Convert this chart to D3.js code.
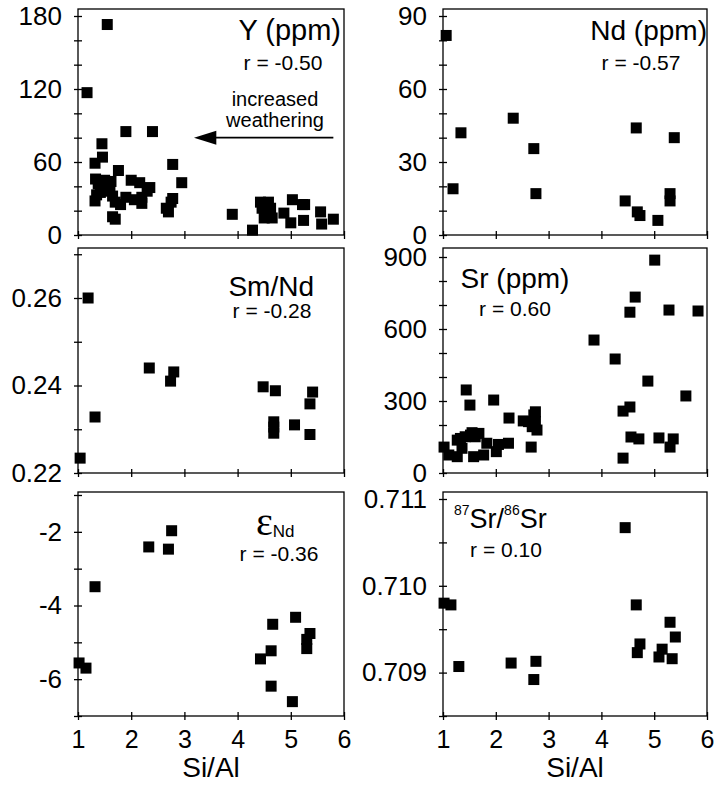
<!DOCTYPE html>
<html>
<head>
<meta charset="utf-8">
<script src="https://cdn.jsdelivr.net/npm/d3@7"></script>
<style>
body { margin: 0; background: #fff; }
svg { font-family: "Liberation Sans", Arial, Helvetica, sans-serif; }
</style>
</head>
<body>
<svg width="715" height="790"></svg>
<script>
// Y (ppm) vs Si/Al
const ySiAl = [1.17, 1.55, 1.9, 2.4, 1.45, 1.46, 1.32, 2.78, 1.76, 2.95, 2.0, 2.16, 2.35, 1.33, 1.38, 1.5, 1.56,
  1.35, 1.32, 1.42, 1.6, 1.65, 1.7, 1.62, 1.9, 2.06, 2.2, 2.2, 2.3, 2.66, 2.78, 2.7, 2.75, 1.65, 1.7, 1.8,
  3.9, 4.28, 4.43, 4.58, 4.46, 4.5, 4.65, 4.87, 5.0, 5.03, 5.22, 5.26, 5.24, 5.56, 5.58, 5.8, 4.62, 4.55];
const yPpm = [117, 173, 85, 85, 75, 64, 59, 58, 53, 43, 45, 43, 39, 46, 42, 45, 41,
  33, 28, 35, 36, 32, 27, 44, 31, 29, 31, 26, 36, 22, 30, 19, 27, 15, 13, 25,
  17, 4, 27, 27, 22, 14, 14, 18, 10, 29, 25, 25, 12, 19, 9, 13, 22, 18];

// Nd (ppm)
const ndSiAl = [1.06, 1.19, 1.34, 2.33, 2.72, 2.76, 4.45, 4.66, 4.68, 4.73, 5.07, 5.3, 5.3, 5.38];
const ndPpm = [82, 19, 42, 48, 35.5, 17, 14, 44, 9.5, 8, 6, 17, 14, 40];

// Sm/Nd
const smSiAl = [1.04, 1.19, 1.32, 2.34, 2.74, 2.8, 4.48, 4.71, 4.68, 4.68, 4.68, 5.07, 5.36, 5.41, 5.36];
const smNd = [0.2234, 0.260, 0.2328, 0.2440, 0.2410, 0.2431, 0.2397, 0.2388, 0.2317, 0.2305, 0.2291,
  0.2310, 0.2358, 0.2385, 0.2288];

// Sr (ppm)
const srSiAl = [1.44, 1.51, 1.96, 2.25, 2.52, 2.72, 2.75, 2.69, 2.78, 2.62, 2.75, 2.67,
  1.02, 1.11, 1.27, 1.36, 1.33, 1.42, 1.52, 1.61, 1.58, 1.77, 1.83, 2.01, 2.05, 2.24, 1.68, 1.55, 1.27,
  3.86, 4.26, 4.41, 4.41, 4.54, 4.54, 4.64, 4.56, 4.71, 4.88, 5.01, 5.09, 5.28, 5.3, 5.36, 5.6, 5.83];
const srPpm = [346, 283, 304, 229, 217, 242, 214, 193, 179, 214, 255, 108,
  108, 75, 68, 103, 144, 151, 158, 151, 68, 75, 124, 89, 119, 124, 165, 168, 137,
  554, 475, 258, 62, 670, 275, 733, 150, 142, 383, 887, 146, 679, 108, 142, 321, 675];

// epsilon Nd
const eSiAl = [1.02, 1.15, 1.32, 2.33, 2.7, 2.76, 4.43, 4.63, 4.66, 4.63, 5.03, 5.09, 5.3, 5.3, 5.36];
const eNd = [-5.56, -5.7, -3.49, -2.41, -2.47, -1.97, -5.45, -5.23, -4.51, -6.19, -6.61, -4.32, -4.92, -5.17, -4.76];

// 87Sr/86Sr
const isoSiAl = [1.02, 1.15, 1.3, 2.29, 2.72, 2.76, 4.45, 4.66, 4.68, 4.73, 5.09, 5.15, 5.3, 5.34, 5.4];
const srIso = [0.70980, 0.70978, 0.70907, 0.70911, 0.70892, 0.70913, 0.71067, 0.70978, 0.70923, 0.70933,
  0.70918, 0.70927, 0.70958, 0.70916, 0.70941];

// tick values
const siAlTicks = [1, 2, 3, 4, 5, 6];
const yTicks = [0, 60, 120, 180], yMinor = [20, 40, 80, 100, 140, 160];
const ndTicks = [0, 30, 60, 90], ndMinor = [10, 20, 40, 50, 70, 80];
const smTicks = [0.22, 0.24, 0.26], smMinor = [0.23, 0.25, 0.27];
const srTicks = [0, 300, 600, 900], srMinor = [100, 200, 400, 500, 700, 800];
const eTicks = [-6, -4, -2], eMinor = [-7, -5, -3, -1];
const isoTicks = [0.709, 0.710, 0.711], isoMinor = [0.7085, 0.7095, 0.7105];

const svg = d3.select('svg');

const cols = [[78, 344], [443, 707]];
const rows = [[9, 235], [248, 473], [492, 716]];

const panels = [
  {col: 0, row: 0, xs: ySiAl, ys: yPpm, domain: [0, 180], range: [235, 16], ticks: yTicks, minor: yMinor, fmt: d3.format('d')},
  {col: 1, row: 0, xs: ndSiAl, ys: ndPpm, domain: [0, 90], range: [235, 16], ticks: ndTicks, minor: ndMinor, fmt: d3.format('d')},
  {col: 0, row: 1, xs: smSiAl, ys: smNd, domain: [0.22, 0.26], range: [473, 298], ticks: smTicks, minor: smMinor, fmt: d3.format('.2f')},
  {col: 1, row: 1, xs: srSiAl, ys: srPpm, domain: [0, 900], range: [473, 257], ticks: srTicks, minor: srMinor, fmt: d3.format('d')},
  {col: 0, row: 2, xs: eSiAl, ys: eNd, domain: [-7, -1], range: [716, 495], ticks: eTicks, minor: eMinor, fmt: d => d},
  {col: 1, row: 2, xs: isoSiAl, ys: srIso, domain: [0.7085, 0.711], range: [716, 499], ticks: isoTicks, minor: isoMinor, fmt: d3.format('.3f')}
];

function styleAxis(size) {
  return g => {
    g.select('.domain').remove();
    g.selectAll('line').attr('stroke', '#000').attr('stroke-width', 1.3);
    g.selectAll('text').attr('fill', '#000').attr('font-size', size);
  };
}

panels.forEach(p => {
  const [x0, x1] = cols[p.col];
  const [top, bottom] = rows[p.row];
  const x = d3.scaleLinear().domain([1, 6]).range([x0, x1]);
  const y = d3.scaleLinear().domain(p.domain).range(p.range);
  p.x = x; p.y = y;

  const g = svg.append('g');

  // y axis: labelled outward ticks, plus inner ticks and minor ticks
  g.append('g').attr('transform', `translate(${x0},0)`)
    .call(d3.axisLeft(y).tickValues(p.ticks).tickSize(4).tickPadding(12).tickFormat(p.fmt))
    .call(styleAxis(26));
  g.append('g').attr('transform', `translate(${x0},0)`)
    .call(d3.axisLeft(y).tickValues(p.ticks.concat(p.minor)).tickSize(-4).tickFormat(''))
    .call(styleAxis(26));
  g.append('g').attr('transform', `translate(${x0},0)`)
    .call(d3.axisLeft(y).tickValues(p.minor).tickSize(4).tickFormat(''))
    .call(styleAxis(26));

  // x axis
  g.append('g').attr('transform', `translate(0,${bottom})`)
    .call(d3.axisBottom(x).tickValues(siAlTicks).tickSize(4).tickPadding(10)
      .tickFormat(p.row === 2 ? d3.format('d') : ''))
    .call(styleAxis(25));
  g.append('g').attr('transform', `translate(0,${bottom})`)
    .call(d3.axisBottom(x).tickValues(siAlTicks).tickSize(-4).tickFormat(''))
    .call(styleAxis(25));

  // frame
  g.append('rect')
    .attr('x', x0).attr('y', top)
    .attr('width', x1 - x0).attr('height', bottom - top)
    .attr('fill', 'none').attr('stroke', '#000').attr('stroke-width', 1.3);

  // points
  const s = 11;
  g.selectAll('rect.pt')
    .data(p.xs.map((v, i) => [v, p.ys[i]]))
    .enter()
    .append('rect')
    .attr('class', 'pt')
    .attr('x', d => x(d[0]) - s / 2)
    .attr('y', d => y(d[1]) - s / 2)
    .attr('width', s)
    .attr('height', s)
    .attr('fill', '#000');
});

// x axis titles
[0, 1].forEach(c => {
  svg.append('text')
    .attr('x', (cols[c][0] + cols[c][1]) / 2)
    .attr('y', 777)
    .attr('text-anchor', 'middle')
    .attr('font-size', 28)
    .text('Si/Al');
});

// panel labels
function label(x, y, txt, size, anchor) {
  return svg.append('text').attr('x', x).attr('y', y)
    .attr('text-anchor', anchor || 'middle')
    .attr('font-size', size).text(txt);
}
label(341, 40, 'Y (ppm)', 29, 'end');
label(283, 70, 'r = -0.50', 21);
label(707, 40, 'Nd (ppm)', 28, 'end');
label(641, 70, 'r = -0.57', 21);
label(314, 296, 'Sm/Nd', 28, 'end');
label(272, 318, 'r = -0.28', 21);
label(515, 288, 'Sr (ppm)', 28);
label(515, 316, 'r = 0.60', 21);
label(279, 561, 'r = -0.36', 21);
label(506, 557, 'r = 0.10', 21);

const eps = svg.append('text').attr('x', 256).attr('y', 535);
eps.append('tspan').attr('font-family', '"Liberation Serif", "Times New Roman", serif')
  .attr('font-size', 40).text('ε');
eps.append('tspan').attr('font-size', 17).attr('dy', 2).text('Nd');

const iso = svg.append('text').attr('x', 454).attr('y', 528).attr('font-size', 27);
iso.append('tspan').attr('font-size', 14).attr('dy', -13).text('87');
iso.append('tspan').attr('dy', 13).text('Sr/');
iso.append('tspan').attr('font-size', 14).attr('dy', -13).text('86');
iso.append('tspan').attr('dy', 13).text('Sr');

// increased weathering arrow
const px = panels[0].x, py = panels[0].y;
svg.append('text').attr('x', 275).attr('y', 106).attr('text-anchor', 'middle')
  .attr('font-size', 20).text('increased');
svg.append('text').attr('x', 275).attr('y', 127).attr('text-anchor', 'middle')
  .attr('font-size', 20).text('weathering');
svg.append('line')
  .attr('x1', px(5.8)).attr('x2', px(3.4))
  .attr('y1', py(80)).attr('y2', py(80))
  .attr('stroke', '#000').attr('stroke-width', 1.6);
svg.append('path')
  .attr('d', `M${px(3.18)},${py(80)} L${px(3.6)},${py(80) - 7} L${px(3.6)},${py(80) + 7} Z`)
  .attr('fill', '#000');
</script>
</body>
</html>
